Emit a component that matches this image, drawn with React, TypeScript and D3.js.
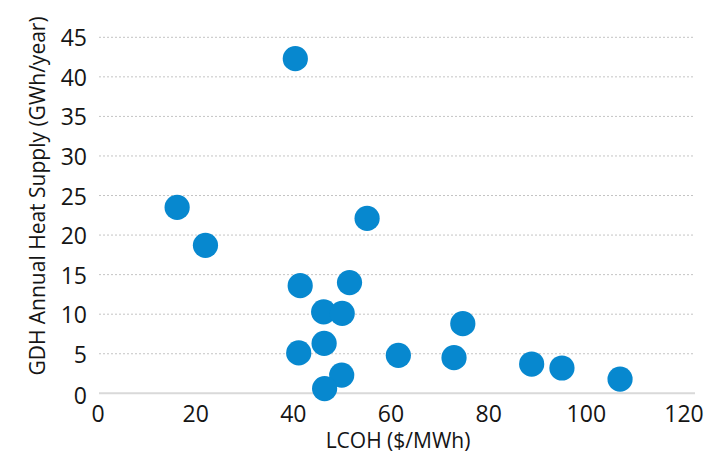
import React, { useEffect, useRef } from "react";
import * as d3 from "d3";

// LCOH ($/MWh) vs GDH annual heat supply (GWh/year)
const lcoh = [40.2, 16.0, 21.8, 54.9, 41.2, 51.3, 46.0, 49.8, 74.5, 40.9, 46.1, 61.3, 72.7, 88.6, 94.8, 106.7, 49.7, 46.2];
const heatSupply = [42.3, 23.5, 18.7, 22.1, 13.6, 14.0, 10.3, 10.1, 8.8, 5.1, 6.3, 4.8, 4.5, 3.7, 3.2, 1.8, 2.3, 0.6];
const xTicks = [0, 20, 40, 60, 80, 100, 120];
const yTicks = [0, 5, 10, 15, 20, 25, 30, 35, 40, 45];

const W = 707;
const H = 456;
const font = "'Open Sans', 'Noto Sans', sans-serif";

export default function App() {
  const ref = useRef<SVGSVGElement>(null);

  useEffect(() => {
    const svg = d3.select(ref.current);
    svg.selectAll("*").remove();

    const x = d3.scaleLinear().domain([0, 120]).range([99, 685]);
    const y = d3.scaleLinear().domain([0, 45]).range([393.3, 37.3]);
    const gridRight = 695;

    // gridlines
    svg
      .append("g")
      .selectAll("line")
      .data(yTicks.filter((d) => d > 0))
      .enter()
      .append("line")
      .attr("x1", x(0))
      .attr("x2", gridRight)
      .attr("y1", (d) => y(d))
      .attr("y2", (d) => y(d))
      .attr("stroke", "#c4c4c4")
      .attr("stroke-width", 1)
      .attr("stroke-dasharray", "2,2");

    // baseline
    svg
      .append("line")
      .attr("x1", x(0))
      .attr("x2", gridRight)
      .attr("y1", y(0))
      .attr("y2", y(0))
      .attr("stroke", "#d9d9d9")
      .attr("stroke-width", 2);

    // y tick labels
    svg
      .append("g")
      .selectAll("text")
      .data(yTicks)
      .enter()
      .append("text")
      .attr("x", 87)
      .attr("y", (d) => (d === 0 ? y(d) + 2 : y(d)))
      .attr("text-anchor", "end")
      .attr("dominant-baseline", "central")
      .attr("font-family", font)
      .attr("font-size", 23)
      .attr("fill", "#151515")
      .text((d) => d);

    // x tick labels
    svg
      .append("g")
      .selectAll("text")
      .data(xTicks)
      .enter()
      .append("text")
      .attr("x", (d) => x(d) - 1)
      .attr("y", 413)
      .attr("text-anchor", "middle")
      .attr("dominant-baseline", "central")
      .attr("font-family", font)
      .attr("font-size", 23)
      .attr("fill", "#151515")
      .text((d) => d);

    // axis titles
    svg
      .append("text")
      .attr("x", 398)
      .attr("y", 440)
      .attr("text-anchor", "middle")
      .attr("dominant-baseline", "central")
      .attr("font-family", font)
      .attr("font-size", 21)
      .attr("fill", "#151515")
      .text("LCOH ($/MWh)");

    svg
      .append("text")
      .attr("transform", "translate(37,196) rotate(-90)")
      .attr("text-anchor", "middle")
      .attr("dominant-baseline", "central")
      .attr("font-family", font)
      .attr("font-size", 21)
      .attr("fill", "#151515")
      .text("GDH Annual Heat Supply (GWh/year)");

    // points
    svg
      .append("g")
      .selectAll("circle")
      .data(lcoh.map((v, i) => ({ x: v, y: heatSupply[i] })))
      .enter()
      .append("circle")
      .attr("cx", (d) => x(d.x))
      .attr("cy", (d) => y(d.y))
      .attr("r", 12.6)
      .attr("fill", "#0788cf");
  }, []);

  return (
    <div style={{ position: "absolute", left: 0, top: 0 }}>
      <svg ref={ref} width={W} height={H} style={{ display: "block", background: "#fff" }} />
    </div>
  );
}
